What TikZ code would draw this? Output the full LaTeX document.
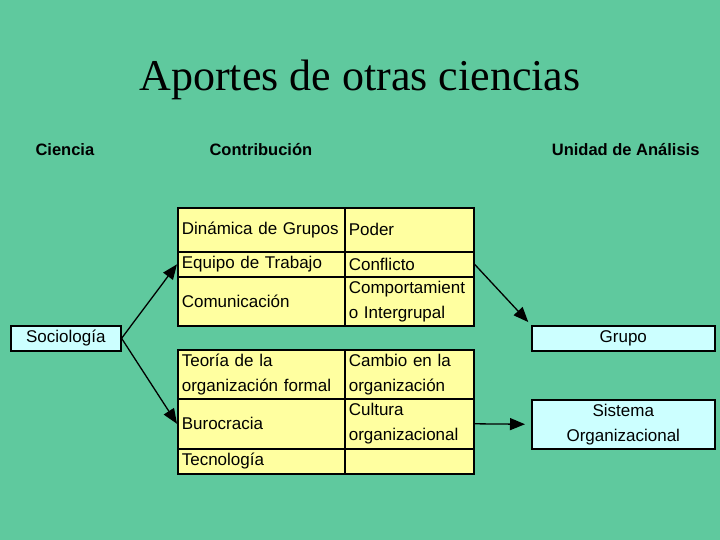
\documentclass[tikz,border=0pt]{standalone}
\usepackage{fontspec}
\setmainfont{Liberation Serif}
\setsansfont{Liberation Sans}
\usetikzlibrary{arrows.meta}
\definecolor{fondo}{RGB}{95,201,158}
\definecolor{celda}{RGB}{255,255,160}
\definecolor{unidad}{RGB}{204,255,255}

\begin{document}
\begin{tikzpicture}[>={Triangle[length=15pt,width=12pt]},x=1pt,y=1pt,
    font=\sffamily\fontsize{17}{25}\selectfont,
    cell/.style={draw,line width=1.6pt,fill=celda,anchor=north west,align=left,inner sep=4pt},
    colA/.style={cell,text width=159pt,minimum width=167pt},
    colB/.style={cell,text width=121pt,minimum width=129pt},
    unit/.style={draw,line width=1.6pt,fill=unidad,anchor=north west,align=center,minimum width=183pt},
    head/.style={font=\sffamily\bfseries\fontsize{16.5}{20}\selectfont},
    link/.style={->,line width=1.3pt}]
  \fill[fondo] (0,0) rectangle (720,-540);
  \useasboundingbox (0,0) rectangle (720,-540);
  \node[font=\rmfamily\fontsize{44}{52}\selectfont,anchor=base] (titulo) at (360,-91) {Aportes de otras ciencias};
  \node[head,anchor=base west] (hciencia) at (32,-156) {Ciencia};
  \node[head,anchor=base west] (hcontrib) at (206,-156) {Contribución};
  \node[head,anchor=base east] (hunidad) at (703,-156) {Unidad de Análisis};

  \node[unit,minimum width=110pt,minimum height=25pt] (soc) at (10,-325) {Sociología};

  \node[colA,minimum height=44pt] (dinamica) at (177,-207) {Dinámica de Grupos};
  \node[colB,minimum height=44pt] (poder) at (344,-207) {Poder};
  \node[colA,minimum height=25pt] (equipo) at (177,-251) {Equipo de Trabajo};
  \node[colB,minimum height=25pt] (conflicto) at (344,-251) {Conflicto};
  \node[colA,minimum height=49pt] (comunic) at (177,-276) {Comunicación};
  \node[colB,minimum height=49pt] (comport) at (344,-276) {Comportamient\\o Intergrupal};

  \node[colA,minimum height=49pt] (teoria) at (177,-349) {Teoría de la\\organización formal};
  \node[colB,minimum height=49pt] (cambio) at (344,-349) {Cambio en la\\organización};
  \node[colA,minimum height=50pt] (buro) at (177,-398) {Burocracia};
  \node[colB,minimum height=50pt] (cultura) at (344,-398) {Cultura\\organizacional};
  \node[colA,minimum height=25pt] (tecno) at (177,-448) {Tecnología};
  \node[colB,minimum height=25pt] (vacia) at (344,-448) {};

  \node[unit,minimum height=25pt] (grupo) at (531,-325) {Grupo};
  \node[unit,minimum height=49pt] (sistema) at (531,-399) {Sistema\\Organizacional};

  \draw[link] (soc.east) -- (equipo.west);
  \draw[link] (soc.east) -- (buro.west);
  \draw[link,shorten >=4pt] (conflicto.east) -- (grupo.north west);
  \draw[link,shorten >=6pt] (cultura.east) -- (sistema.west);
\end{tikzpicture}
\end{document}
